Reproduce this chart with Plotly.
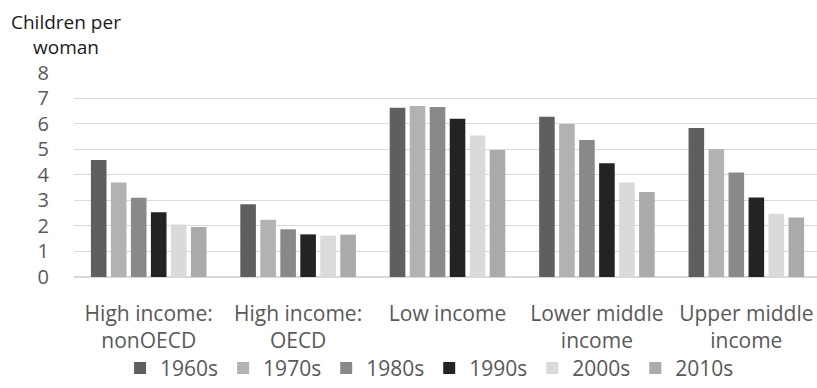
import plotly.graph_objects as go

categories = ["High income:<br>nonOECD", "High income:<br>OECD", "Low income",
              "Lower middle<br>income", "Upper middle<br>income"]
series_names = ["1960s", "1970s", "1980s", "1990s", "2000s", "2010s"]
v1960 = [4.58, 2.85, 6.63, 6.28, 5.84]
v1970 = [3.70, 2.24, 6.70, 5.99, 5.00]
v1980 = [3.10, 1.87, 6.66, 5.37, 4.09]
v1990 = [2.54, 1.67, 6.20, 4.46, 3.11]
v2000 = [2.06, 1.62, 5.54, 3.70, 2.48]
v2010 = [1.96, 1.66, 4.97, 3.33, 2.33]
series_values = [v1960, v1970, v1980, v1990, v2000, v2010]
colors = ["#5f5f5f", "#b2b2b2", "#898989", "#232323", "#dadada", "#aaaaaa"]
y_ticks = [0, 1, 2, 3, 4, 5, 6, 7, 8]

FONT = "Open Sans"

fig = go.Figure()
for name, vals, col in zip(series_names, series_values, colors):
    fig.add_trace(go.Bar(name=name, x=categories, y=vals,
                         marker=dict(color=col, line=dict(width=0))))

fig.update_layout(
    width=817, height=388,
    margin=dict(l=74, r=0, t=72, b=111, autoexpand=False),
    paper_bgcolor="white", plot_bgcolor="white",
    barmode="group", bargap=0.197, bargroupgap=0.22,
    font=dict(family=FONT, color="#595959"),
    showlegend=True,
    legend=dict(orientation="h", x=0.062, xanchor="left", y=-0.545, yanchor="bottom",
                font=dict(size=21, color="#595959", family=FONT),
                bgcolor="rgba(0,0,0,0)", traceorder="normal"),
    xaxis=dict(range=[-0.5, 4.473], showgrid=False, showline=False, ticks="",
               automargin=False, ticklabelstandoff=22,
               tickfont=dict(size=21, color="#595959", family=FONT)),
    yaxis=dict(range=[0, 8.03], tickvals=y_ticks, showgrid=True, gridcolor="#d9d9d9",
               gridwidth=1, zeroline=True, zerolinecolor="#d9d9d9", zerolinewidth=1.5,
               showline=False, ticks="outside", ticklen=20, tickcolor="rgba(0,0,0,0)",
               automargin=False,
               tickfont=dict(size=20, color="#595959", family=FONT)),
)

fig.add_annotation(text="Children per<br>woman", xref="paper", yref="paper",
                   x=(66 - 74) / 743, y=1.183, xanchor="center", yanchor="middle",
                   showarrow=False, align="center",
                   font=dict(size=19, color="#1a1a1a", family=FONT))

fig.write_html("out.html")
